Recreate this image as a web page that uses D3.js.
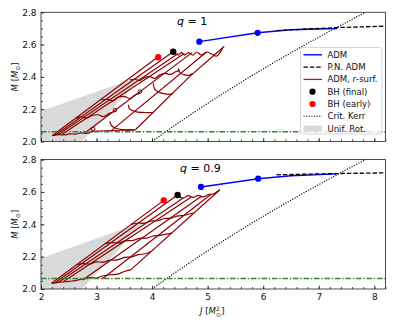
<!DOCTYPE html>
<html>
<head>
<meta charset="utf-8">
<script src="https://cdn.jsdelivr.net/npm/d3@7"></script>
<style>
  body { margin: 0; background: #fff; }
  svg { display: block; font-family: "DejaVu Sans", sans-serif; }
</style>
</head>
<body>
<div id="container"></div>
<script>
/********************* Data ************************/

const xTicks = [2, 3, 4, 5, 6, 7, 8]
const yTicks = [2.0, 2.2, 2.4, 2.6, 2.8]
const qLabels = ["1", "0.9"]

// ADM mass sequence (markers only on the first two)
const admQ1 = [[4.85, 2.618], [5.90, 2.673], [6.50, 2.692], [7.33, 2.700]]
const admQ09 = [[4.88, 2.631], [5.91, 2.682], [6.50, 2.700], [7.33, 2.712]]
// post-Newtonian ADM
const pnQ1 = [[6.24, 2.686], [6.80, 2.697], [7.40, 2.706], [8.20, 2.714]]
const pnQ09 = [[6.24, 2.706], [6.80, 2.710], [7.40, 2.714], [8.20, 2.718]]
// black hole points
const bhFinalQ1 = [4.38, 2.556]
const bhEarlyQ1 = [4.11, 2.521]
const bhFinalQ09 = [4.46, 2.581]
const bhEarlyQ09 = [4.21, 2.548]
// critical Kerr
const kerrJ = [4.00, 4.41, 4.84, 5.29, 5.76, 6.25, 6.76, 7.29, 7.84, 8.41]
const kerrM = [2.0, 2.1, 2.2, 2.3, 2.4, 2.5, 2.6, 2.7, 2.8, 2.9]
// max TOV mass
const tovM = [2.060, 2.065]
// uniform rotation region
const unifRotQ1 = [[1.9, 2.0], [1.9, 2.176], [3.85, 2.41], [2.74, 2.0]]
const unifRotQ09 = [[1.9, 2.0], [1.9, 2.178], [3.88, 2.42], [2.74, 2.0]]

// r-surface ADM sequences, q = 1
const rLinesQ1 = [
    [[2.20, 2.035], [4.08, 2.517]],
    [[2.24, 2.035], [4.38, 2.556]],
    [[2.30, 2.040], [4.47, 2.545]],
    [[2.38, 2.045], [4.58, 2.545]],
    [[2.80, 2.055], [4.72, 2.550]],
    [[3.25, 2.062], [4.98, 2.554]],
    [[3.70, 2.072], [4.67, 2.400], [5.30, 2.590]]
]
const rWavesQ1 = [
    [[2.20, 2.035], [2.32, 2.042], [2.42, 2.040], [2.52, 2.047], [2.62, 2.045], [2.72, 2.053], [2.82, 2.050], [2.94, 2.062], [3.05, 2.064], [3.20, 2.066], [3.40, 2.069], [3.70, 2.072]],
    [[2.63, 2.144], [2.73, 2.154], [2.82, 2.144], [2.91, 2.159], [3.03, 2.165], [3.12, 2.154], [3.24, 2.175], [3.33, 2.185]],
    [[3.09, 2.257], [3.21, 2.261], [3.30, 2.251], [3.39, 2.274], [3.51, 2.278], [3.60, 2.266], [3.69, 2.288], [3.78, 2.299]],
    [[3.60, 2.381], [3.69, 2.385], [3.78, 2.377], [3.87, 2.397], [3.96, 2.401], [4.05, 2.391], [4.14, 2.412], [4.23, 2.422], [4.33, 2.415], [4.42, 2.432], [4.50, 2.440]],
    [[4.38, 2.556], [4.47, 2.535], [4.53, 2.550], [4.59, 2.535], [4.65, 2.550], [4.74, 2.535], [4.80, 2.554], [4.89, 2.535], [4.98, 2.554], [5.07, 2.542], [5.16, 2.528], [5.27, 2.578]],
    [[3.24, 2.124], [3.27, 2.097], [3.36, 2.080], [3.51, 2.072], [3.69, 2.072]],
    [[3.57, 2.226], [3.60, 2.200], [3.72, 2.183], [3.87, 2.179], [4.03, 2.179]],
    [[4.02, 2.360], [4.05, 2.323], [4.17, 2.299], [4.30, 2.292], [4.38, 2.296]],
    [[4.47, 2.453], [4.50, 2.426], [4.57, 2.414], [4.66, 2.410], [4.73, 2.420]]
]
const rLoopsQ1 = [[2.94, 2.068], [3.33, 2.185], [3.78, 2.299]]

// r-surface ADM sequences, q = 0.9
const rLinesQ09 = [
    [[2.19, 2.035], [4.21, 2.548]],
    [[2.24, 2.035], [4.45, 2.579]],
    [[2.31, 2.040], [4.56, 2.562]],
    [[2.40, 2.045], [4.70, 2.568]],
    [[2.75, 2.055], [4.88, 2.572]],
    [[3.10, 2.062], [5.05, 2.583]],
    [[3.62, 2.120], [5.22, 2.614]]
]
const rWavesQ09 = [
    [[2.19, 2.035], [2.35, 2.042], [2.50, 2.047], [2.62, 2.052], [2.75, 2.062], [2.88, 2.070], [3.00, 2.068], [3.12, 2.082], [3.25, 2.088], [3.38, 2.092], [3.50, 2.108], [3.62, 2.120]],
    [[2.64, 2.150], [2.76, 2.157], [2.88, 2.155], [3.00, 2.168], [3.12, 2.166], [3.25, 2.178], [3.38, 2.180], [3.50, 2.195], [3.62, 2.198], [3.75, 2.212], [3.88, 2.218], [3.98, 2.232]],
    [[3.15, 2.280], [3.27, 2.287], [3.40, 2.285], [3.52, 2.298], [3.65, 2.300], [3.78, 2.313], [3.90, 2.315], [4.03, 2.328], [4.15, 2.332], [4.35, 2.345]],
    [[3.62, 2.400], [3.74, 2.408], [3.86, 2.406], [3.98, 2.420], [4.10, 2.422], [4.22, 2.436], [4.34, 2.438], [4.46, 2.452], [4.58, 2.456], [4.74, 2.470]],
    [[4.45, 2.579], [4.56, 2.562], [4.65, 2.577], [4.74, 2.566], [4.83, 2.579], [4.92, 2.569], [5.01, 2.583], [5.10, 2.587], [5.22, 2.614]]
]
const rLoopsQ09 = []

const legendLabels = ["ADM", "P.N. ADM", "ADM, r-surf.", "BH (final)", "BH (early)", "Crit. Kerr", "Unif. Rot."]

/********************* Setup ************************/

const colors = {
    adm: "#0000ff",
    rsurf: "#8b0000",
    early: "#ff0000",
    tov: "#2a8a2a",
    unif: "#d9d9d9"
}

const x = d3.scaleLinear().domain([2, 8.2]).range([41, 385.4])

const panels = [
    { q: qLabels[0], y: d3.scaleLinear().domain([2, 2.8]).range([141.4, 12.3]), qx: 177,
      adm: admQ1, pn: pnQ1, bhFinal: bhFinalQ1, bhEarly: bhEarlyQ1, tov: tovM[0],
      unif: unifRotQ1, lines: rLinesQ1, waves: rWavesQ1, loops: rLoopsQ1, labels: false, legend: true },
    { q: qLabels[1], y: d3.scaleLinear().domain([2, 2.8]).range([289, 159.6]), qx: 180,
      adm: admQ09, pn: pnQ09, bhFinal: bhFinalQ09, bhEarly: bhEarlyQ09, tov: tovM[1],
      unif: unifRotQ09, lines: rLinesQ09, waves: rWavesQ09, loops: rLoopsQ09, labels: true, legend: false }
]

const svg = d3.select("#container").append("svg")
    .attr("width", 395)
    .attr("height", 329)

/********************* Panels ************************/

panels.forEach((p, i) => drawPanel(p, i))

function drawPanel(p, i) {
    const y = p.y
    const [x0, x1] = x.range()
    const [y0, y1] = y.range()
    const g = svg.append("g")
    const line = d3.line().x(d => x(d[0])).y(d => y(d[1]))
    const wave = d3.line().x(d => x(d[0])).y(d => y(d[1])).curve(d3.curveCatmullRom)

    svg.append("clipPath").attr("id", "clip" + i)
        .append("rect").attr("x", x0).attr("y", y1).attr("width", x1 - x0).attr("height", y0 - y1)

    const plot = g.append("g").attr("clip-path", `url(#clip${i})`)

    plot.append("path")
        .attr("d", line(p.unif) + "Z")
        .attr("fill", colors.unif)

    plot.selectAll(".rline").data(p.lines).enter()
        .append("path")
        .attr("d", line)
        .attr("fill", "none").attr("stroke", colors.rsurf).attr("stroke-width", 1.2)

    plot.selectAll(".rwave").data(p.waves).enter()
        .append("path")
        .attr("d", wave)
        .attr("fill", "none").attr("stroke", colors.rsurf).attr("stroke-width", 1.2)

    plot.selectAll(".rloop").data(p.loops).enter()
        .append("circle")
        .attr("cx", d => x(d[0])).attr("cy", d => y(d[1]) - 1.5).attr("r", 1.8)
        .attr("fill", "none").attr("stroke", colors.rsurf).attr("stroke-width", 1)

    plot.append("path")
        .attr("d", line(kerrJ.map((j, k) => [j, kerrM[k]])))
        .attr("fill", "none").attr("stroke", "#000").attr("stroke-width", 1.2)
        .attr("stroke-dasharray", "1.1,1.5")

    plot.append("path")
        .attr("d", line(p.adm))
        .attr("fill", "none").attr("stroke", colors.adm).attr("stroke-width", 1.4)

    plot.append("path")
        .attr("d", line(p.pn))
        .attr("fill", "none").attr("stroke", "#000").attr("stroke-width", 1.3)
        .attr("stroke-dasharray", "4.4,2")

    plot.append("line")
        .attr("x1", x0).attr("x2", x1)
        .attr("y1", y(p.tov)).attr("y2", y(p.tov))
        .attr("stroke", colors.tov).attr("stroke-width", 1.4)
        .attr("stroke-dasharray", "5.5,1.8,1.4,1.8")

    plot.selectAll(".admpt").data(p.adm.slice(0, 2)).enter()
        .append("circle")
        .attr("cx", d => x(d[0])).attr("cy", d => y(d[1])).attr("r", 3.1)
        .attr("fill", colors.adm)

    plot.append("circle")
        .attr("cx", x(p.bhEarly[0])).attr("cy", y(p.bhEarly[1])).attr("r", 3.2)
        .attr("fill", colors.early)
    plot.append("circle")
        .attr("cx", x(p.bhFinal[0])).attr("cy", y(p.bhFinal[1])).attr("r", 3.2)
        .attr("fill", "#000")

    // axes, ticks inward
    const yMinor = d3.range(2, 2.8001, 0.05)
    const xMinor = d3.range(2, 8.2001, 0.2)

    const yAxis = g.append("g").attr("transform", `translate(${x0},0)`)
        .call(d3.axisLeft(y).tickValues(yTicks).tickSize(-3.5).tickPadding(4.5).tickFormat(d3.format(".1f")))
    const yAxisMinor = g.append("g").attr("transform", `translate(${x0},0)`)
        .call(d3.axisLeft(y).tickValues(yMinor).tickSize(-2).tickFormat(""))
    const xAxis = g.append("g").attr("transform", `translate(0,${y0})`)
        .call(d3.axisBottom(x).tickValues(xTicks).tickSize(-3.5).tickPadding(4.5).tickFormat(p.labels ? d3.format("d") : ""))
    const xAxisMinor = g.append("g").attr("transform", `translate(0,${y0})`)
        .call(d3.axisBottom(x).tickValues(xMinor).tickSize(-2).tickFormat(""))

    ;[yAxis, yAxisMinor, xAxis, xAxisMinor].forEach(a => {
        a.select(".domain").remove()
        a.selectAll("line").attr("stroke", "#222").attr("stroke-width", 0.8)
        a.selectAll("text").attr("font-size", 9).attr("fill", "#111")
            .attr("font-family", "DejaVu Sans, sans-serif")
    })

    g.append("rect")
        .attr("x", x0).attr("y", y1).attr("width", x1 - x0).attr("height", y0 - y1)
        .attr("fill", "none").attr("stroke", "#222").attr("stroke-width", 0.8)

    // y label
    const yl = g.append("text")
        .attr("transform", `translate(18,${(y0 + y1) / 2}) rotate(-90)`)
        .attr("text-anchor", "middle")
        .attr("font-size", 8.5).attr("fill", "#111")
    yl.append("tspan").attr("font-style", "italic").text("M")
    yl.append("tspan").text(" [")
    yl.append("tspan").attr("font-style", "italic").text("M")
    yl.append("tspan").attr("font-size", 6).attr("dy", 2).text("⊙")
    yl.append("tspan").attr("dy", -2).text("]")

    // q label
    const ql = g.append("text")
        .attr("x", p.qx).attr("y", y1 + 12.8)
        .attr("font-size", 11).attr("fill", "#000")
    ql.append("tspan").attr("font-style", "italic").text("q")
    ql.append("tspan").text(" = " + p.q)

    if (p.labels) {
        const xl = g.append("text")
            .attr("x", 200).attr("y", 314)
            .attr("font-size", 8.5).attr("fill", "#111")
        xl.append("tspan").attr("font-style", "italic").text("J")
        xl.append("tspan").text(" [")
        xl.append("tspan").attr("font-style", "italic").text("M")
        xl.append("tspan").attr("font-size", 6).attr("dy", -3.5).text("2")
        xl.append("tspan").attr("font-size", 6).attr("dx", -3.6).attr("dy", 6).text("⊙")
        xl.append("tspan").attr("dy", -2.5).text("]")
    }

    if (p.legend) drawLegend(g)
}

/********************* Legend ************************/

function drawLegend(g) {
    const lg = g.append("g").attr("transform", "translate(300.5,47.5)")
    lg.append("rect")
        .attr("width", 81.5).attr("height", 86.5).attr("rx", 2)
        .attr("fill", "#fff").attr("fill-opacity", 0.8)
        .attr("stroke", "#ccc").attr("stroke-width", 0.8)

    const rows = lg.selectAll(".row").data(legendLabels).enter()
        .append("g")
        .attr("transform", (d, k) => `translate(0,${7.3 + k * 12.3})`)

    rows.each(function (d, k) {
        const r = d3.select(this)
        if (k === 0) r.append("line").attr("x1", 3).attr("x2", 21.5).attr("stroke", colors.adm).attr("stroke-width", 1.4)
        if (k === 1) r.append("line").attr("x1", 3).attr("x2", 21.5).attr("stroke", "#000").attr("stroke-width", 1.3).attr("stroke-dasharray", "4.4,2")
        if (k === 2) r.append("line").attr("x1", 3).attr("x2", 21.5).attr("stroke", colors.rsurf).attr("stroke-width", 1.3).attr("stroke-opacity", 0.85)
        if (k === 3) r.append("circle").attr("cx", 12).attr("r", 3.1).attr("fill", "#000")
        if (k === 4) r.append("circle").attr("cx", 12).attr("r", 3.1).attr("fill", colors.early)
        if (k === 5) r.append("line").attr("x1", 3).attr("x2", 21.5).attr("stroke", "#000").attr("stroke-width", 1.1).attr("stroke-dasharray", "1.1,1.5")
        if (k === 6) r.append("rect").attr("x", 3).attr("y", -3).attr("width", 18.5).attr("height", 6).attr("fill", colors.unif)

        const t = r.append("text").attr("x", 27).attr("dy", "0.35em")
            .attr("font-size", 8.5).attr("fill", "#111")
        if (k === 2) {
            t.append("tspan").text("ADM, ")
            t.append("tspan").attr("font-style", "italic").text("r")
            t.append("tspan").text("-surf.")
        } else {
            t.text(d)
        }
    })
}
</script>
</body>
</html>
